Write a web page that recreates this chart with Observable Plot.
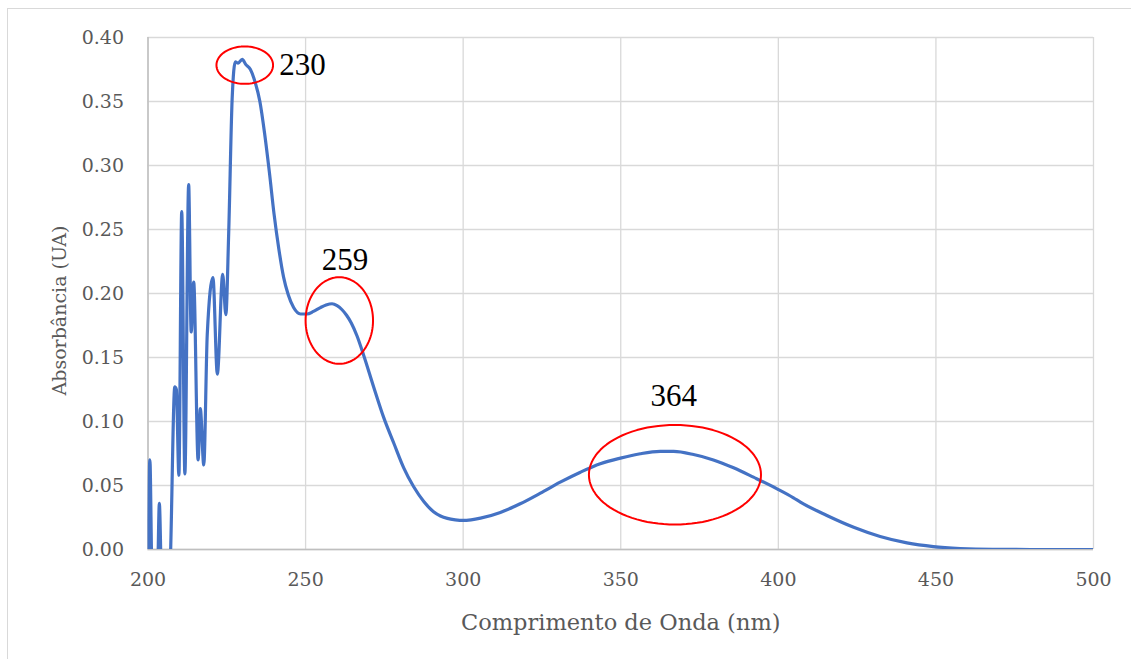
<!DOCTYPE html>
<html>
<head>
<meta charset="utf-8">
<script src="https://cdn.jsdelivr.net/npm/d3@7"></script>
<script src="https://cdn.jsdelivr.net/npm/@observablehq/plot@0.6"></script>
<style>
  html, body { margin: 0; padding: 0; background: #fff; overflow: hidden; }
  #wrap { position: relative; width: 1131px; height: 659px; }
  #border { position: absolute; left: 7px; top: 8px; width: 1300px; height: 800px;
            border-left: 1px solid #d9d9d9; border-top: 1px solid #d9d9d9; }
  #chart { position: absolute; left: 0; top: 0; }
</style>
</head>
<body>
<div id="wrap"><div id="border"></div><div id="chart"></div></div>
<script>
// UV-Vis absorption spectrum
const wavelength = [
  200.0, 200.6, 201.3, 203.0, 203.6, 204.3, 206.8, 208.5, 209.0, 209.8,
  210.7, 211.7, 212.9, 213.7, 214.5, 215.9, 216.6, 217.7, 218.8, 220.6,
  222.0, 223.7, 224.7, 225.6, 226.7, 227.7, 228.6, 229.9, 231.0, 232.5,
  234.0, 235.5, 237.0, 238.5, 240.0, 241.5, 243.0, 244.5, 246.2, 248.4,
  250.5, 252.5, 254.7, 256.5, 258.4, 260.0, 261.5, 263.0, 264.5, 266.3,
  268.4, 271.6, 274.8, 278.0, 281.1, 284.3, 287.5, 290.6, 292.8, 295.0,
  297.5, 300.0, 302.5, 305.5, 311.8, 318.1, 324.5, 330.8, 337.2, 343.5,
  349.9, 356.2, 362.5, 366.8, 373.1, 379.4, 385.8, 392.1, 399.6, 404.8,
  407.0, 415.4, 423.9, 432.3, 440.8, 449.2, 457.7, 468.0, 480.0, 500.0
];
const absorbance = [
  -0.020, 0.070, -0.020, -0.020, 0.036, -0.020, -0.020, 0.127, 0.125, 0.058,
  0.264, 0.059, 0.285, 0.170, 0.209, 0.070, 0.110, 0.066, 0.168, 0.2125,
  0.137, 0.215, 0.1835, 0.247, 0.352, 0.381, 0.380, 0.383, 0.379, 0.375,
  0.365, 0.350, 0.325, 0.295, 0.262, 0.235, 0.213, 0.199, 0.189, 0.184,
  0.184, 0.186, 0.189, 0.191, 0.192, 0.1905, 0.1875, 0.183, 0.177, 0.167,
  0.152, 0.127, 0.103, 0.083, 0.064, 0.049, 0.0375, 0.0295, 0.0262, 0.0243,
  0.0232, 0.0227, 0.0232, 0.0245, 0.029, 0.0357, 0.044, 0.0526, 0.0604, 0.067,
  0.0714, 0.0748, 0.0766, 0.0766, 0.0742, 0.070, 0.0638, 0.0565, 0.0474, 0.0404,
  0.037, 0.0266, 0.0174, 0.0102, 0.0052, 0.0023, 0.0008, 0.0001, 0.0, 0.0
];

// Peak annotations: label text and where its centre sits
const peakLabels = ["230", "259", "364"];
const peakLabelX = [249.0, 262.5, 366.8];
const peakLabelY = [0.3785, 0.2265, 0.1195];

// Red rings around the peaks (centre and radii in data units)
const ringX = [230.7, 260.7, 367.2];
const ringY = [0.3784, 0.1789, 0.0584];
const ringRx = [8.98, 10.7, 27.3];
const ringRy = [0.0146, 0.0338, 0.0389];

const xTicks = [200, 250, 300, 350, 400, 450, 500];
const yTicks = [0, 0.05, 0.10, 0.15, 0.20, 0.25, 0.30, 0.35, 0.40];

const spectrum = wavelength.map((w, i) => ({w, a: absorbance[i]}));
const ringPts = [];
ringX.forEach((cx, k) => {
  for (let j = 0; j <= 96; j++) {
    const t = (j / 96) * 2 * Math.PI;
    ringPts.push({ring: k, x: cx + ringRx[k] * Math.cos(t), y: ringY[k] + ringRy[k] * Math.sin(t)});
  }
});
const peaks = peakLabels.map((t, i) => ({t, x: peakLabelX[i], y: peakLabelY[i]}));

const font = "'DejaVu Serif', serif";
const grey = "#595959";

const chart = Plot.plot({
  width: 1131,
  height: 659,
  marginLeft: 147.5,
  marginRight: 38,
  marginTop: 37,
  marginBottom: 110,
  style: {fontFamily: font, background: "transparent"},
  x: {domain: [200, 500]},
  y: {domain: [0, 0.4]},
  marks: [
    Plot.gridX(xTicks, {stroke: "#d9d9d9", strokeOpacity: 1, strokeWidth: 1.3}),
    Plot.gridY(yTicks, {stroke: "#d9d9d9", strokeOpacity: 1, strokeWidth: 1.3}),
    Plot.ruleX([200], {stroke: "#bfbfbf", strokeWidth: 1.5}),
    Plot.ruleY([0], {stroke: "#bfbfbf", strokeWidth: 1.5}),
    Plot.axisX({ticks: xTicks, tickSize: 0, tickPadding: 23, fontSize: 19, fill: grey,
      label: "Comprimento de Onda (nm)", labelAnchor: "center", labelArrow: "none", labelOffset: 80}),
    Plot.axisY({ticks: yTicks, tickSize: 0, tickPadding: 24, fontSize: 19, fill: grey,
      tickFormat: d3.format(".2f"),
      label: "Absorbância (UA)", labelAnchor: "center", labelArrow: "none", labelOffset: 96}),
    Plot.line(spectrum, {x: "w", y: "a", stroke: "#4472C4", strokeWidth: 3.2,
      curve: "monotone-x", clip: true}),
    Plot.line(ringPts, {x: "x", y: "y", z: "ring", stroke: "#ff0000", strokeWidth: 2, curve: "linear"}),
    Plot.text(peaks, {x: "x", y: "y", text: "t", textAnchor: "middle", lineAnchor: "middle",
      fontSize: 31, fill: "#000"})
  ]
});
document.getElementById("chart").appendChild(chart);

// Axis title sizes and the y title sitting a little below the plot's centre
const xl = chart.querySelector("[aria-label='x-axis label']");
if (xl) xl.setAttribute("font-size", 22.5);
const yl = chart.querySelector("[aria-label='y-axis label']");
if (yl) {
  yl.setAttribute("font-size", 19);
  yl.setAttribute("transform", "translate(0,17) " + (yl.getAttribute("transform") || ""));
}
// Peak numbers in a Times-style face
d3.select(chart).selectAll("[aria-label='text'], [aria-label='text'] text")
  .style("font-family", "'Liberation Serif', 'Times New Roman', serif");
</script>
</body>
</html>
